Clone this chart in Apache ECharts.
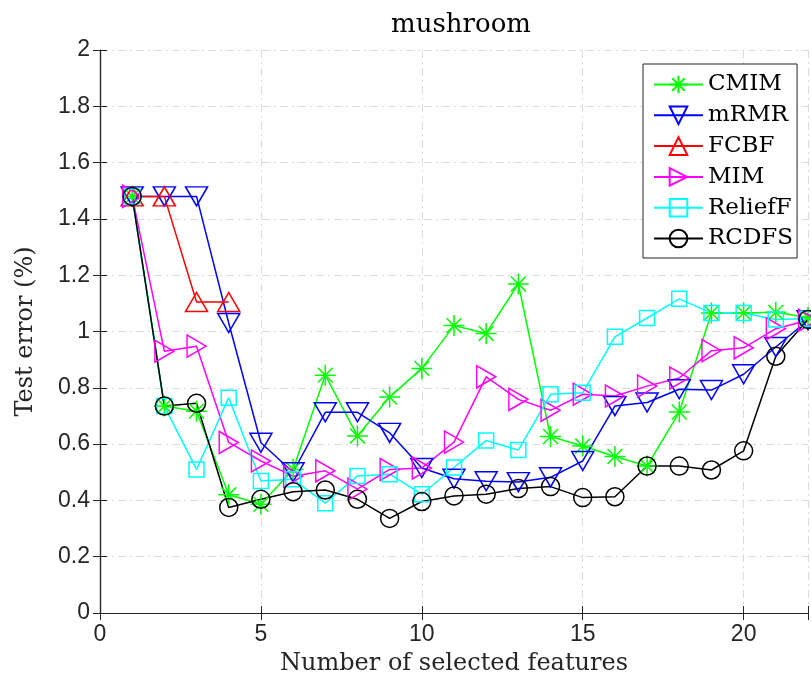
<!DOCTYPE html>
<html>
<head>
<meta charset="utf-8">
<script src="https://cdn.jsdelivr.net/npm/echarts@6/dist/echarts.min.js"></script>
<style>
html,body{margin:0;padding:0;background:#fff;}
#chart{width:811px;height:684px;}
</style>
</head>
<body>
<div id="chart"></div>
<script>
const xs = [1,2,3,4,5,6,7,8,9,10,11,12,13,14,15,16,17,18,19,20,21,22];
const cmim = [1.48,0.735,0.717,0.42,0.386,0.51,0.845,0.629,0.767,0.869,1.021,0.993,1.169,0.627,0.593,0.556,0.522,0.714,1.066,1.066,1.068,1.05];
const mrmr = [1.48,1.48,1.48,1.03,0.605,0.5,0.713,0.713,0.64,0.515,0.477,0.468,0.465,0.482,0.54,0.735,0.748,0.795,0.792,0.848,0.945,1.04];
const fcbf = [1.48,1.48,1.105,1.105];
const mim = [1.48,0.93,0.948,0.606,0.54,0.486,0.505,0.44,0.51,0.515,0.607,0.839,0.759,0.72,0.777,0.771,0.806,0.835,0.932,0.942,1.01,1.04];
const relieff = [1.48,0.735,0.51,0.765,0.469,0.475,0.39,0.487,0.493,0.422,0.517,0.613,0.579,0.777,0.782,0.981,1.048,1.116,1.066,1.066,1.043,1.045];
const rcdfs = [1.48,0.735,0.745,0.375,0.404,0.431,0.437,0.404,0.336,0.396,0.416,0.422,0.442,0.449,0.41,0.413,0.522,0.522,0.508,0.576,0.912,1.043];
const xTicks = [0,5,10,15,20];
const yTicks = [0,0.2,0.4,0.6,0.8,1,1.2,1.4,1.6,1.8,2];

const serif = "'DejaVu Serif', 'Liberation Serif', serif";
const sans = "'Liberation Sans', Arial, sans-serif";
const axisCol = '#262626';
const star = 'path://M0,-1L0,1M-1,0L1,0M-0.707,-0.707L0.707,0.707M-0.707,0.707L0.707,-0.707';

function pairs(arr){ return arr.map((v,i)=>[xs[i], v]); }
function mk(name, data, color, symbol, size, rotate){
  return {
    name: name, type: 'line', data: pairs(data),
    symbol: symbol, symbolSize: size, symbolRotate: rotate || 0,
    showAllSymbol: true, clip: false, animation: false, silent: true,
    lineStyle: {color: color, width: 1.5},
    itemStyle: {color: 'rgba(0,0,0,0)', borderColor: color, borderWidth: 1.5},
    emphasis: {disabled: true}
  };
}

const chart = echarts.init(document.getElementById('chart'), null, {renderer: 'canvas'});
const axisCommon = {
  type: 'value',
  axisLine: {show: true, lineStyle: {color: axisCol, width: 1.2}},
  axisTick: {show: true, inside: true, length: 7, lineStyle: {color: axisCol}},
};
chart.setOption({
  animation: false,
  backgroundColor: '#fff',
  title: {
    text: 'mushroom', left: 456, textAlign: 'center', top: 7,
    textStyle: {fontFamily: serif, fontSize: 26, fontWeight: 'normal', color: '#000'}
  },
  grid: {left: 100, top: 50, width: 714, height: 563, containLabel: false},
  legend: {
    orient: 'vertical', left: 643, top: 64,
    backgroundColor: '#fff',
    borderColor: axisCol, borderWidth: 1,
    padding: [9, 4, 8, 10],
    itemWidth: 49, itemHeight: 22, itemGap: 7.8,
    textStyle: {fontFamily: serif, fontSize: 23, lineHeight: 22, color: '#000'},
    data: ['CMIM','mRMR','FCBF','MIM','ReliefF','RCDFS']
  },
  xAxis: [
    Object.assign({}, axisCommon, {
      min: 0, max: 22, interval: 5, position: 'bottom',
      axisLabel: {fontFamily: sans, fontSize: 23, color: axisCol, margin: 10,
        formatter: v => xTicks.indexOf(v) >= 0 ? String(v) : ''},
      splitLine: {show: true, lineStyle: {color: '#dcdcdc', width: 1, type: [8,4,2,4]}},
      name: 'Number of selected features', nameLocation: 'middle', nameGap: 39,
      nameTextStyle: {fontFamily: serif, fontSize: 24, color: '#262626'}
    }),
    Object.assign({}, axisCommon, {
      min: 0, max: 22, interval: 5, position: 'top',
      axisLabel: {show: false}, splitLine: {show: false}
    })
  ],
  yAxis: [
    Object.assign({}, axisCommon, {
      min: 0, max: 2, interval: 0.2, position: 'left',
      axisLabel: {fontFamily: sans, fontSize: 23, color: axisCol, margin: 10,
        formatter: v => { const t = yTicks.find(k => Math.abs(k - v) < 1e-6); return t === undefined ? '' : String(t); }},
      splitLine: {show: true, lineStyle: {color: '#dcdcdc', width: 1, type: [8,4,2,4]}},
      name: 'Test error (%)', nameLocation: 'middle', nameGap: 62,
      nameTextStyle: {fontFamily: serif, fontSize: 24, color: '#262626'}
    }),
    Object.assign({}, axisCommon, {
      min: 0, max: 2, interval: 0.2, position: 'right',
      axisLabel: {show: false}, splitLine: {show: false}
    })
  ],
  series: [
    mk('CMIM', cmim, '#00ff00', star, 21, 0),
    mk('mRMR', mrmr, '#0000ff', 'triangle', [22, 19], 180),
    mk('FCBF', fcbf, '#ff0000', 'triangle', [22, 19], 0),
    mk('MIM', mim, '#ff00ff', 'triangle', [22, 19], -90),
    mk('ReliefF', relieff, '#00ffff', 'rect', 15, 0),
    mk('RCDFS', rcdfs, '#000000', 'circle', 18, 0)
  ]
});
</script>
</body>
</html>
